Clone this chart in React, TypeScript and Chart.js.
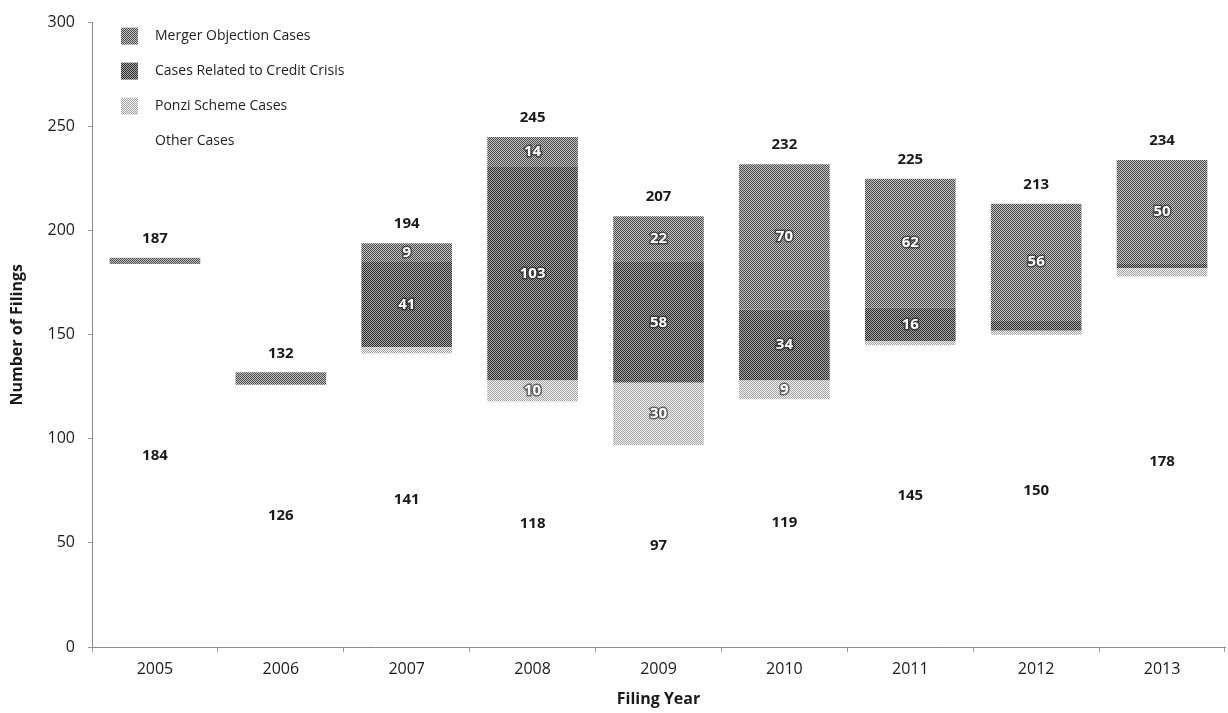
import { useEffect, useRef } from 'react';
import { Chart, registerables } from 'chart.js';

Chart.register(...registerables);

// Securities class action filings by year, split by case type
const years = ['2005', '2006', '2007', '2008', '2009', '2010', '2011', '2012', '2013'];
const otherCases = [184, 126, 141, 118, 97, 119, 145, 150, 178];
const ponziCases = [0, 0, 3, 10, 30, 9, 2, 2, 4];
const creditCrisisCases = [0, 0, 41, 103, 58, 34, 16, 5, 2];
const mergerObjectionCases = [3, 6, 9, 14, 22, 70, 62, 56, 50];
const yAxisMax = 300;
const yAxisStep = 50;

const FONT = '"Open Sans", "Noto Sans", sans-serif';
const TEXT = '#1a1a1a';

// Two-tone checker tile, giving the bars a halftone look
function makePattern(dark: string, light: string): CanvasPattern | string {
  const tile = document.createElement('canvas');
  tile.width = 2;
  tile.height = 2;
  const c = tile.getContext('2d');
  if (!c) return dark;
  c.fillStyle = light;
  c.fillRect(0, 0, 2, 2);
  c.fillStyle = dark;
  c.fillRect(0, 0, 1, 1);
  c.fillRect(1, 1, 1, 1);
  const p = c.createPattern(tile, 'repeat');
  return p || dark;
}

// Value labels: segment counts inside bars, "other" counts in the open part, totals on top
const valueLabels = {
  id: 'valueLabels',
  afterDatasetsDraw(chart: any) {
    const ctx = chart.ctx;
    const n = chart.data.labels.length;
    const datasets = chart.data.datasets;
    ctx.save();
    ctx.textAlign = 'center';
    ctx.textBaseline = 'middle';
    for (let i = 0; i < n; i++) {
      let total = 0;
      let topY = Infinity;
      let x = 0;
      datasets.forEach((ds: any, di: number) => {
        const v = ds.data[i] as number;
        total += v;
        const el = chart.getDatasetMeta(di).data[i];
        if (!el) return;
        x = el.x;
        topY = Math.min(topY, el.y);
        const midY = (el.y + el.base) / 2;
        if (di === 0) {
          ctx.font = `bold 15px ${FONT}`;
          ctx.fillStyle = TEXT;
          ctx.fillText(String(v), x, midY);
        } else if (v >= 9) {
          ctx.font = `bold 15px ${FONT}`;
          ctx.lineWidth = 3;
          ctx.strokeStyle = 'rgba(30,30,30,0.6)';
          ctx.strokeText(String(v), x, midY);
          ctx.fillStyle = '#ffffff';
          ctx.fillText(String(v), x, midY);
        }
      });
      ctx.font = `bold 15px ${FONT}`;
      ctx.fillStyle = TEXT;
      ctx.fillText(String(total), x, topY - 19);
    }
    ctx.restore();
  },
};

// Stacked legend in the upper-left corner of the plot
const insideLegend = {
  id: 'insideLegend',
  afterDraw(chart: any) {
    const ctx = chart.ctx;
    const { left, top } = chart.chartArea;
    const datasets = chart.data.datasets;
    ctx.save();
    ctx.textBaseline = 'middle';
    ctx.textAlign = 'left';
    ctx.font = `14px ${FONT}`;
    for (let row = 0; row < datasets.length; row++) {
      const di = datasets.length - 1 - row;
      const ds = datasets[di];
      const y = top + 13 + row * 35;
      const x = left + 29;
      if (di !== 0) {
        ctx.fillStyle = ds.backgroundColor;
        ctx.fillRect(x, y - 8, 17, 17);
      }
      ctx.fillStyle = '#222';
      ctx.fillText(ds.label, x + 34, y);
    }
    ctx.restore();
  },
};

export default function App() {
  const canvasRef = useRef<HTMLCanvasElement | null>(null);

  useEffect(() => {
    const canvas = canvasRef.current;
    if (!canvas) return;
    const mergerFill = makePattern('#4c4c4c', '#c2c2c2');
    const creditFill = makePattern('#303030', '#a4a4a4');
    const ponziFill = makePattern('#a4a4a4', '#f2f2f2');

    const chart = new Chart(canvas, {
      type: 'bar',
      data: {
        labels: years,
        datasets: [
          { label: 'Other Cases', data: otherCases, backgroundColor: 'rgba(255,255,255,0)' },
          { label: 'Ponzi Scheme Cases', data: ponziCases, backgroundColor: ponziFill as any },
          { label: 'Cases Related to Credit Crisis', data: creditCrisisCases, backgroundColor: creditFill as any },
          { label: 'Merger Objection Cases', data: mergerObjectionCases, backgroundColor: mergerFill as any },
        ],
      },
      options: {
        animation: false,
        responsive: true,
        maintainAspectRatio: false,
        layout: { padding: { left: 8, top: 22, right: 3, bottom: 4 } },
        datasets: { bar: { categoryPercentage: 1, barPercentage: 0.72 } },
        plugins: { legend: { display: false }, tooltip: { enabled: false } },
        scales: {
          x: {
            stacked: true,
            afterFit: (s: any) => { s.height = 62; },
            grid: { drawOnChartArea: false, tickLength: 5, color: '#9a9a9a' },
            border: { display: true, color: '#8a8a8a', dash: [2, 2] },
            ticks: { font: { family: FONT, size: 16 }, color: TEXT, padding: 8 },
            title: {
              display: true,
              text: 'Filing Year',
              font: { family: FONT, size: 16, weight: 'bold' },
              color: TEXT,
              padding: 0,
            },
          },
          y: {
            stacked: true,
            min: 0,
            max: yAxisMax,
            afterFit: (s: any) => { s.width = 84; },
            grid: { drawOnChartArea: false, tickLength: 4, color: '#9a9a9a' },
            border: { display: true, color: '#8a8a8a', dash: [2, 2] },
            ticks: { stepSize: yAxisStep, font: { family: FONT, size: 16 }, color: TEXT, padding: 13 },
            title: {
              display: true,
              text: 'Number of Filings',
              font: { family: FONT, size: 16, weight: 'bold' },
              color: TEXT,
              padding: 0,
            },
          },
        },
      },
      plugins: [valueLabels, insideLegend],
    });
    return () => chart.destroy();
  }, []);

  return (
    <div style={{ position: 'fixed', left: 0, top: 0, width: 1228, height: 713, background: '#fff' }}>
      <canvas ref={canvasRef} />
    </div>
  );
}
